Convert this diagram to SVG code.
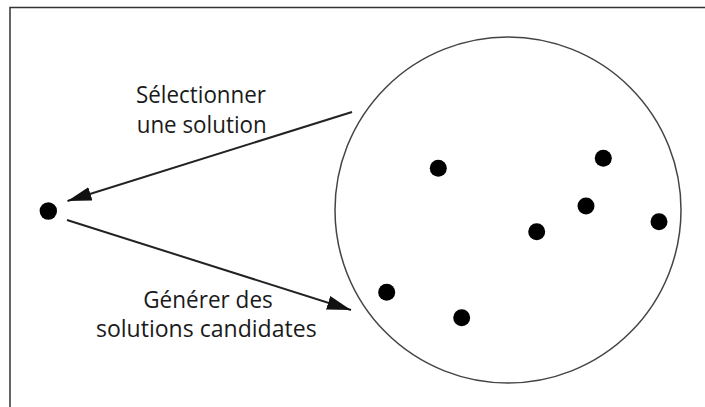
<svg xmlns="http://www.w3.org/2000/svg" width="705" height="407" viewBox="0 0 705 407">
<style>
.lbl{font-family:"Open Sans","Liberation Sans",sans-serif;font-size:23.5px;fill:#1a1a1a;text-anchor:middle}
.dot{fill:#000}
.conn{stroke:#222;stroke-width:2;fill:none}
</style>
<defs>
<marker id="ah" markerUnits="userSpaceOnUse" markerWidth="26" markerHeight="14" refX="24" refY="7" orient="auto">
<path d="M0,0 L24,7 L0,14 Z" fill="#111"/>
</marker>
</defs>
<rect width="705" height="407" fill="#fff"/>
<path d="M10,407 L10,7.5 L705,7.5" fill="none" stroke="#333" stroke-width="1.5"/>
<g id="start">
<circle class="dot" cx="48.3" cy="211" r="8.7"/>
</g>
<g id="population">
<circle cx="508" cy="210" r="173" fill="none" stroke="#444" stroke-width="1.5"/>
<circle class="dot" cx="438.3" cy="168.3" r="8.5"/>
<circle class="dot" cx="603.3" cy="158.3" r="8.5"/>
<circle class="dot" cx="586" cy="206" r="8.5"/>
<circle class="dot" cx="659" cy="221.7" r="8.5"/>
<circle class="dot" cx="536.7" cy="231.7" r="8.5"/>
<circle class="dot" cx="386.7" cy="292.3" r="8.5"/>
<circle class="dot" cx="461.7" cy="317.7" r="8.5"/>
</g>
<g id="connectors">
<line class="conn" x1="352" y1="112" x2="67.5" y2="201" marker-end="url(#ah)"/>
<line class="conn" x1="67" y1="220" x2="351" y2="310" marker-end="url(#ah)"/>
</g>
<g id="labels">
<text class="lbl" x="201" y="103.3" textLength="130" lengthAdjust="spacingAndGlyphs">Sélectionner</text>
<text class="lbl" x="201.7" y="133.3" textLength="130" lengthAdjust="spacingAndGlyphs">une solution</text>
<text class="lbl" x="208" y="308.3" textLength="129.5" lengthAdjust="spacingAndGlyphs">Générer des</text>
<text class="lbl" x="206.3" y="337.3" textLength="220.7" lengthAdjust="spacingAndGlyphs">solutions candidates</text>
</g>
</svg>
